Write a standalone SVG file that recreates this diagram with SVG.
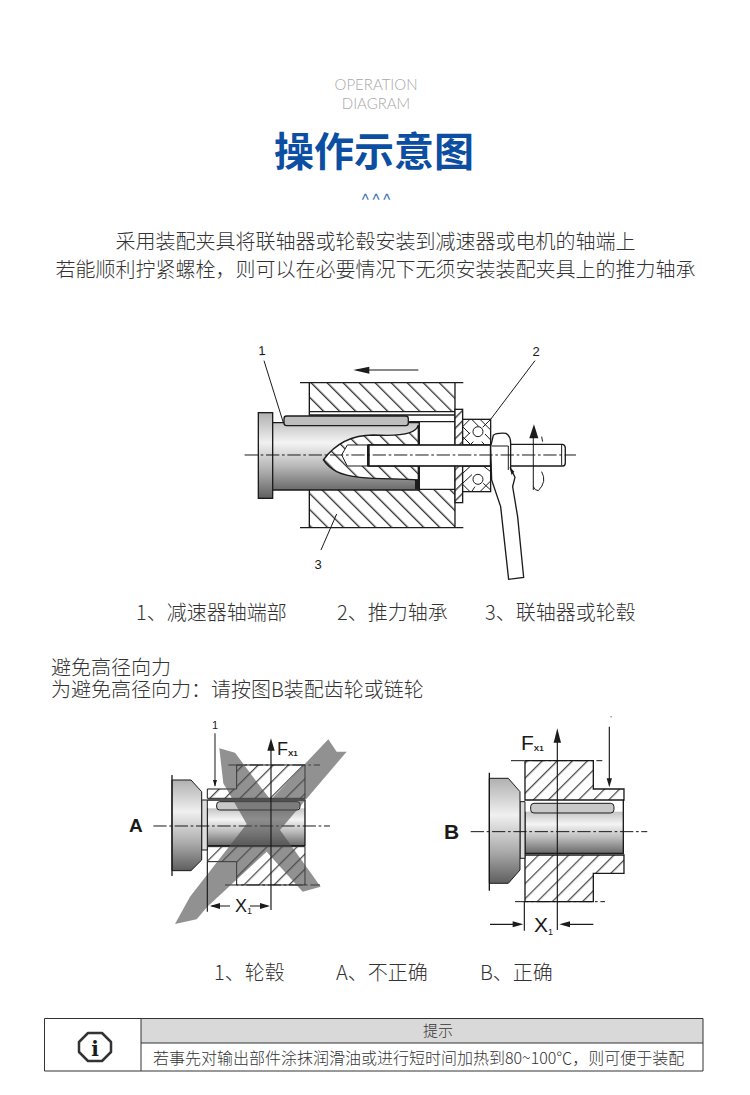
<svg xmlns="http://www.w3.org/2000/svg" width="750" height="1095" viewBox="0 0 750 1095">
<style>
.cn{font-family:"Noto Sans CJK SC","Noto Sans",sans-serif;font-weight:300;font-size:20px;fill:#333}
.en{font-family:Lato,"Liberation Sans",sans-serif;font-weight:300;font-size:15px;fill:#a8a8a8;text-anchor:middle}
.lab{font-family:"Liberation Sans",Arial,sans-serif;fill:#1a1a1a}
.ln{fill:none;stroke:#1a1a1a;stroke-width:4}
.th{fill:none;stroke:#1a1a1a;stroke-width:3}
.cl{fill:none;stroke:#1a1a1a;stroke-width:3;stroke-dasharray:40 8 8 8}
.ar{fill:none;stroke:#1a1a1a;stroke-width:3;marker-end:url(#head)}
.art{fill:none;stroke:#1a1a1a;stroke-width:3.5}
.wh{fill:#fff;stroke:#1a1a1a;stroke-width:4}
</style>
<defs>
<marker id="head" viewBox="0 0 10 6" refX="9" refY="3" markerWidth="7" markerHeight="5" orient="auto-start-reverse" markerUnits="strokeWidth"><path d="M0 0L10 3L0 6z" fill="#1a1a1a"/></marker>
<pattern id="hb" width="34" height="34" patternUnits="userSpaceOnUse" patternTransform="rotate(-45)"><line x1="5" y1="0" x2="5" y2="34" stroke="#1a1a1a" stroke-width="3.500"/></pattern>
<pattern id="hs" width="22" height="22" patternUnits="userSpaceOnUse" patternTransform="rotate(45)"><line x1="5" y1="0" x2="5" y2="22" stroke="#1a1a1a" stroke-width="3.500"/></pattern>
<pattern id="hf" width="32" height="32" patternUnits="userSpaceOnUse" patternTransform="rotate(45)"><line x1="5" y1="0" x2="5" y2="32" stroke="#1a1a1a" stroke-width="3"/></pattern>
<linearGradient id="sh" x1="0" y1="0" x2="0" y2="1"><stop offset="0" stop-color="#c4c4c4"/><stop offset=".3" stop-color="#f4f4f4"/><stop offset=".62" stop-color="#bdbdbd"/><stop offset="1" stop-color="#6a6a6a"/></linearGradient>
<linearGradient id="fl" x1="0" y1="0" x2="0" y2="1"><stop offset="0" stop-color="#b0b0b0"/><stop offset=".35" stop-color="#f0f0f0"/><stop offset=".7" stop-color="#aaa"/><stop offset="1" stop-color="#5e5e5e"/></linearGradient>
<filter id="soft" x="-5%" y="-5%" width="110%" height="110%"><feGaussianBlur stdDeviation="1.1"/></filter>
</defs>
<rect width="750" height="1095" fill="#fff"/>

<g id="header">
<text class="en" x="376" y="90">OPERATION</text>
<text class="en" x="376" y="109">DIAGRAM</text>
<text x="374" y="166" text-anchor="middle" style="font-family:'Noto Sans CJK SC',sans-serif;font-weight:700;font-size:40px;fill:#0b4ea2">操作示意图</text>
<text x="361" y="207" textLength="30" lengthAdjust="spacing" style="font-family:Inter,sans-serif;font-weight:300;font-size:19px;fill:#2f6db5">^^^</text>
</g>

<g id="intro">
<text class="cn" x="375.500" y="249" text-anchor="middle">采用装配夹具将联轴器或轮毂安装到减速器或电机的轴端上</text>
<text class="cn" x="375.500" y="277" text-anchor="middle">若能顺利拧紧螺栓，则可以在必要情况下无须安装装配夹具上的推力轴承</text>
</g>

<g id="fig1" transform="translate(240 330) scale(.3333)" filter="url(#soft)">
<rect x="208" y="158" width="437" height="87" fill="url(#hb)"/>
<rect x="208" y="478" width="437" height="115" fill="url(#hb)"/>
<path class="ln" d="M180 158H670M180 593H670M208 158V245H645M645 158V245M208 478V593M645 478V593M208 245V255H645M505 275H645M645 245V478M535 478H645"/>
<rect x="98" y="278" width="440" height="202" fill="url(#sh)"/>
<path class="ln" d="M98 480H538V278H98"/>
<rect x="55" y="248" width="43" height="257" fill="url(#fl)" stroke="#1a1a1a" stroke-width="4"/>
<path d="M525 450H538V478H525z" fill="#1a1a1a"/>
<rect x="132" y="258" width="373" height="29" rx="8" fill="#bdbdbd" stroke="#1a1a1a" stroke-width="4"/>
<path d="M535 285C530 310 480 320 400 315C340 315 290 335 250 390C270 420 300 435 360 442C420 448 480 445 535 450Z" fill="#fff"/>
<path d="M535 285C530 310 480 320 400 315C340 315 290 335 250 390C270 420 300 435 360 442C420 448 480 445 535 450Z" fill="url(#hb)" stroke="#1a1a1a" stroke-width="4"/>
<path d="M540 345H322L305 375L322 408H540z" fill="#fff" stroke="#1a1a1a" stroke-width="3"/>
<rect x="645" y="238" width="23" height="280" fill="#fff"/>
<rect x="645" y="238" width="23" height="280" fill="url(#hs)" stroke="#1a1a1a" stroke-width="4"/>
<rect x="668" y="268" width="84" height="217" fill="#fff"/>
<rect x="668" y="268" width="84" height="77" fill="none" stroke="#1a1a1a" stroke-width="4"/>
<rect x="668" y="408" width="84" height="77" fill="none" stroke="#1a1a1a" stroke-width="4"/>
<path class="th" d="M668 290L690 312M668 320L693 345M695 268L716 289M720 268L752 300M752 330L735 312M668 290L690 268M752 268L728 292M668 330L690 308M690 345L700 335M725 335L735 345"/>
<path class="th" d="M668 430L692 408M668 460L696 434M690 485L668 463M720 485L752 453M752 425L730 408M752 480L730 460M695 485L705 470"/>
<circle cx="714" cy="305" r="15" fill="#fff" stroke="#1a1a1a" stroke-width="3"/>
<circle cx="714" cy="448" r="15" fill="#fff" stroke="#1a1a1a" stroke-width="3"/>
<rect x="385" y="345" width="367" height="63" fill="#fff" stroke="#1a1a1a" stroke-width="5"/>
<path d="M385 345V408" stroke="#1a1a1a" stroke-width="8"/>
<path d="M810 343H968Q976 345 976 355V398Q976 408 968 408H810z" fill="#fff" stroke="#1a1a1a" stroke-width="4"/>
<path class="th" d="M965 345V406"/>
<path class="wh" d="M760 316Q770 308 798 310Q812 318 812 340V415L825 442L818 470L833 560L851 742L806 748L782 530L755 450L752 350z"/>
<path class="th" d="M755 348H805V420"/>
<path d="M808 410L823 425L815 435z" fill="#1a1a1a"/>
<path class="cl" d="M14 375H1008"/>
<path d="M868 325L882 283L895 325z" fill="#1a1a1a"/>
<path class="th" d="M880 320V480M905 320L908 335M905 425Q922 455 895 482Q885 482 880 470"/>
<path class="art" d="M535 120H350"/>
<path d="M340 120L388 110V131z" fill="#1a1a1a"/>
<path class="th" d="M72 92L130 278M885 92L752 268M243 660L290 552"/>
</g>
<g id="fig1-labels" class="lab" font-size="13">
<text x="262" y="355" text-anchor="middle" transform="rotate(-3 262 355)">1</text>
<text x="536" y="356" text-anchor="middle">2</text>
<text x="318" y="569" text-anchor="middle">3</text>
</g>

<g id="legend1">
<text class="cn" x="136" y="620">1、减速器轴端部</text>
<text class="cn" x="337" y="620">2、推力轴承</text>
<text class="cn" x="485" y="620">3、联轴器或轮毂</text>
</g>

<g id="note">
<text class="cn" x="51" y="675">避免高径向力</text>
<text class="cn" x="51" y="697">为避免高径向力：请按图B装配齿轮或链轮</text>
</g>

<g id="figA" transform="translate(120 720) scale(.3333)" filter="url(#soft)">
<path d="M262 207H350V135H555V235H262zM262 380H555V495H350V425H262z" fill="url(#hf)" stroke="#1a1a1a" stroke-width="3"/>
<rect x="262" y="265" width="293" height="112" fill="url(#sh)"/>
<path class="ln" d="M262 265V377H555V240M262 240H555"/>
<path d="M245 240H262V390H245z" fill="#ddd" stroke="#1a1a1a" stroke-width="3"/>
<path d="M156 180H213L245 215V420L213 452H156z" fill="url(#fl)" stroke="#1a1a1a" stroke-width="3"/>
<path class="ln" d="M156 165V468"/>
<rect x="290" y="245" width="250" height="25" rx="9" fill="#c8c8c8" stroke="#1a1a1a" stroke-width="3"/>
<path class="cl" d="M100 318H630"/>
<path class="cl" d="M325 135H600M315 495H600"/>
<path d="M298 85L345 98L410 185L452 240L625 58L650 95L680 95L480 330L602 500L548 515L440 395L262 560L230 598L165 612L210 530L380 312L310 190z" fill="#4d4d4d" fill-opacity=".62"/>
<path class="ar" d="M285 40V198"/>
<path class="art" d="M453 75V570"/>
<path d="M442 92L453 55L464 92z" fill="#1a1a1a"/>
<path class="art" d="M262 425V575"/>
<path class="art" d="M275 558H330M390 558H442"/>
<path d="M270 558L300 549V567zM450 558L420 549V567z" fill="#1a1a1a"/>
</g>
<g id="figA-labels" class="lab">
<text x="215" y="729" font-size="11" text-anchor="middle">1</text>
<text x="277" y="755" font-size="18">F<tspan font-size="8" font-weight="700" dy="1">X1</tspan></text>
<text x="235" y="912" font-size="18">X<tspan font-size="9" dy="2">1</tspan></text>
<text x="129" y="832" font-size="19" font-weight="700">A</text>
</g>

<g id="figB" transform="translate(430 720) scale(.3333)" filter="url(#soft)">
<path d="M285 122H490V207H582V240H285zM285 405H582V460H490V545H285z" fill="url(#hf)" stroke="#1a1a1a" stroke-width="4"/>
<rect x="285" y="275" width="295" height="125" fill="url(#sh)"/>
<path class="ln" d="M285 275V400H580V240"/>
<path d="M270 245H285V415H270z" fill="#ddd" stroke="#1a1a1a" stroke-width="3"/>
<path d="M178 175H235L270 215V450L235 490H178z" fill="url(#fl)" stroke="#1a1a1a" stroke-width="3"/>
<path class="ln" d="M178 158V512"/>
<rect x="302" y="250" width="250" height="29" rx="10" fill="#c8c8c8" stroke="#1a1a1a" stroke-width="3"/>
<path class="cl" d="M122 335H652"/>
<path class="cl" d="M243 122H517M255 545H525"/>
<path class="art" d="M382 50V630"/>
<path d="M371 68L382 25L393 68z" fill="#1a1a1a"/>
<path class="art" d="M538 20V180"/>
<path d="M530 175H546L538 202z" fill="#1a1a1a"/>
<path class="art" d="M283 545V632M180 613H255M415 613H490"/>
<path d="M280 613L248 604V622zM388 613L420 604V622z" fill="#1a1a1a"/>
</g>
<g id="figB-labels" class="lab">
<text x="611" y="721" font-size="8" text-anchor="middle">'</text>
<text x="521" y="750" font-size="21">F<tspan font-size="8" font-weight="700" dy="1">X1</tspan></text>
<text x="534" y="932" font-size="21">X<tspan font-size="9" dy="3">1</tspan></text>
<text x="444" y="839" font-size="21" font-weight="700">B</text>
</g>

<g id="legend2">
<text class="cn" x="214" y="980">1、轮毂</text>
<text class="cn" x="336" y="980">A、不正确</text>
<text class="cn" x="480" y="980">B、正确</text>
</g>

<g id="tip">
<rect x="141" y="1018" width="562" height="25" fill="#d9d9d9"/>
<path fill="none" stroke="#333" stroke-width="1" d="M44.500 1018.500H703V1071H44.500zM141 1018.500V1071M141 1043H703"/>
<path d="M88 1033H102L111 1042V1052L102 1061H88L79 1052V1042z" fill="#fff" stroke="#333" stroke-width="2.500" stroke-linejoin="round"/>
<text x="95" y="1056" text-anchor="middle" style="font-family:'DejaVu Serif',serif;font-weight:700;font-size:20px;fill:#1a1a1a">i</text>
<text x="438" y="1036" text-anchor="middle" style="font-family:'Noto Sans CJK SC',sans-serif;font-weight:300;font-size:15px;fill:#333">提示</text>
<text x="153" y="1064" style="font-family:'Noto Sans CJK SC',sans-serif;font-weight:300;font-size:16px;fill:#333">若事先对输出部件涂抹润滑油或进行短时间加热到80~100℃，则可便于装配</text>
</g>
</svg>
